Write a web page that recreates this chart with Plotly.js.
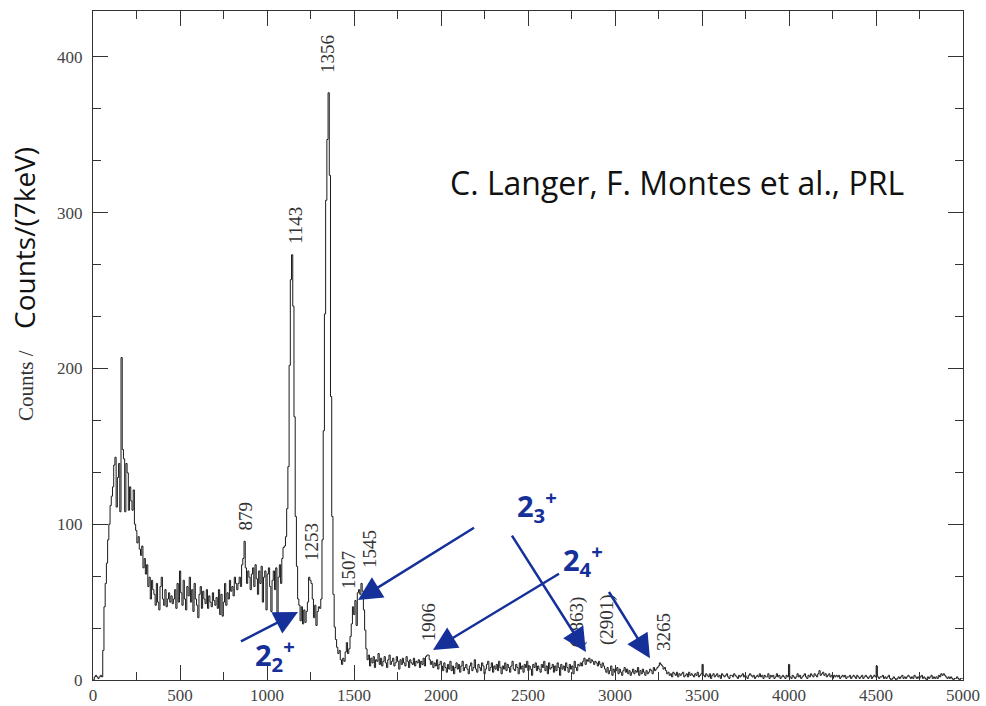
<!DOCTYPE html>
<html>
<head>
<meta charset="utf-8">
<script src="https://cdn.plot.ly/plotly-3.0.1.min.js"></script>
<style>
  html, body { margin: 0; padding: 0; background: #fff; }
  #chart { width: 986px; height: 706px; }
</style>
</head>
<body>
<div id="chart"></div>
<script>
// Gamma-ray spectrum, counts per 7 keV bin, 0–5000 keV.
const BIN_KEV = 7;

// 0 – 1099 keV : low-energy hump and Compton continuum, 879 keV line
const lowEnergy = [
  0, 2, 3, 2, 1, 2, 3, 2, 19, 47,
  62, 75, 90, 100, 112,
  118, 124, 138, 143, 111, 130, 139, 108, 207, 148, 142, 108, 139, 133, 109, 124, 115, 109, 122, 100, 96,
  88, 92, 84, 80, 86, 72, 78, 68, 74, 60, 66, 52, 64, 58,
  55, 48, 62, 50, 45, 60, 66, 52, 48, 58, 47, 52, 56, 50,
  54, 49, 52, 58, 46, 62, 50, 70, 56, 48, 64, 52, 45, 60, 54, 66,
  50, 58, 44, 62, 52, 48, 40, 55, 60, 46, 57, 52, 49, 58, 46, 54, 50, 47, 56, 51,
  48, 53, 46, 58, 42, 55, 41, 50, 62, 48, 56, 52, 64, 57, 60, 54, 66, 62,
  58, 62, 66, 60, 74, 78, 89, 72, 62,
  70, 66, 58, 68, 72, 60, 74, 65, 55, 70, 62, 73, 50, 66, 70, 45, 68, 72, 60, 44,
  64, 70, 58, 72, 43, 66, 74, 62, 78, 85
];

// 1099 – 1582 keV : 1143, 1253, 1356, 1507, 1545 keV lines
const peakRegion = [
  86, 92, 110, 137, 202, 257, 273, 240, 169, 105,
  73, 52, 48, 38, 47, 36, 45, 37, 44, 50,
  66, 64, 62, 52, 40, 48, 35, 44, 47, 46,
  52, 90, 160, 235, 308, 347, 377, 324, 182, 105,
  55, 34, 26, 21, 17, 19, 13, 10, 14, 12,
  18, 24, 17, 20, 28, 36, 47, 42, 51, 35,
  56, 58, 55, 62, 57, 45, 32, 20, 13
];

// 1582 – 2002 keV : flat background with the 1906 keV line
const midRegion = [
  16, 9, 14, 11, 15, 8, 13, 12, 17, 10, 14, 9, 12, 15, 11, 8, 13, 16, 10, 12,
  14, 9, 11, 15, 12, 7, 13, 10, 14, 11, 9, 15, 12, 8, 13, 11, 10, 14, 9, 12,
  11, 13, 8, 12, 10, 14, 9, 15, 16, 16, 13, 10, 12, 8, 11, 9, 13, 7, 10, 12
];

// 2002 – 2800 keV : background
const highBackground = [
  9, 6, 11, 8, 5, 10, 7, 12, 6, 9, 4, 8, 11, 7, 10, 5, 9, 12, 6, 8,
  10, 7, 4, 9, 11, 6, 8, 13, 7, 5, 10, 8, 6, 11, 9, 4, 7, 10, 12, 6,
  8, 11, 5, 9, 7, 10, 6, 12, 8, 4, 9, 7, 11, 6, 10, 8, 5, 9, 12, 7,
  6, 10, 8, 4, 11, 7, 9, 5, 10, 8, 12, 6, 9, 7, 3, 10, 8, 11, 6, 9,
  7, 5, 10, 8, 12, 6, 9, 4, 11, 7, 8, 10, 5, 9, 6, 11, 8, 3, 10, 7,
  9, 6, 11, 8, 5, 10, 7, 9, 4, 12, 8, 6, 10, 9
];

// 2800 – 2940 keV : (2863) / (2901) doublet
const doublet = [
  11, 9, 12, 14, 10, 13, 12, 14, 11, 13, 12, 10, 12, 11, 9, 12, 10, 8, 11, 9
];

// 2940 – 3241 keV
const preTail = [
  7, 5, 8, 4, 6, 9, 3, 7, 5, 6, 8, 4, 7, 5, 3, 6, 8, 5, 7, 4,
  6, 3, 5, 7, 4, 6, 5, 8, 3, 6, 4, 7, 5, 3, 6, 4, 5, 7, 6, 4,
  8, 6, 7
];

// 3241 – 3297 keV : 3265 keV line
const line3265 = [8, 9, 11, 10, 9, 7, 8, 6];

// 3297 – 4998 keV : tail
const tail = [
  4, 5, 3, 4, 2, 5, 4, 3, 5, 2, 4, 3, 4, 5, 2, 3, 4, 2, 5, 3,
  4, 3, 2, 4, 3, 5, 2, 3, 4, 10, 3, 2, 4, 3, 2, 4, 1, 3, 4, 2,
  3, 4, 2, 3, 1, 4, 3, 2, 3, 4, 2, 1, 3, 3, 2, 4, 3, 2, 1, 3,
  2, 3, 4, 2, 3, 2, 1, 3, 4, 3, 2, 3, 1, 2, 3, 2, 4, 2, 3, 1,
  3, 2, 2, 4, 1, 3, 2, 3, 1, 2, 4, 2, 3, 1, 2, 3, 2, 1, 3, 2,
  10, 2, 1, 3, 2, 1, 2, 4, 2, 3, 1, 2, 3, 4, 2, 1, 3, 2, 4, 3,
  2, 4, 3, 2, 4, 6, 3, 4, 5, 3, 4, 2, 3, 4, 2, 3, 1, 3, 2, 3,
  2, 3, 1, 2, 3, 2, 3, 1, 2, 2, 3, 1, 2, 3, 2, 1, 3, 2, 1, 2,
  3, 1, 2, 3, 2, 1, 2, 3, 1, 2, 3, 2, 9, 2, 1, 2, 2, 3, 1, 2,
  1, 2, 3, 1, 0, 1, 2, 1, 0, 1, 2, 1, 2, 3, 1, 2, 1, 2, 3, 2,
  1, 2, 1, 3, 2, 1, 2, 1, 2, 3, 1, 2, 1, 0, 2, 1, 2, 3, 1, 2,
  1, 2, 1, 3, 2, 4, 3, 4, 3, 2, 1, 2, 1, 2, 1, 0, 1, 1, 2, 1, 0, 1, 1
];

// Peak energy labels (keV) and where they sit
const peakLabels = ['879', '1143', '1253', '1356', '1507', '1545', '1906', '(2863)', '(2901)', '3265'];
const peakLabelX = [874, 1160, 1259, 1351, 1466, 1586, 1925, 2782, 2954, 3276];
const peakLabelY = [105, 292, 88.6, 402, 70.6, 84, 37, 37, 38.5, 30.8];

// State assignments: label text, label position, arrow tips and tails (px offsets)
const stateNames = ['2<sub>2</sub><sup>+</sup>', '2<sub>3</sub><sup>+</sup>', '2<sub>4</sub><sup>+</sup>'];
const stateX = [1046, 2552, 2816];
const stateY = [16, 112, 77];
const arrowTipX = [1178, 1523, 2833, 1954, 3201];
const arrowTipY = [43.7, 51.4, 18, 19.3, 14];
const arrowTailDx = [-60, 119, -77, 129, -44];
const arrowTailDy = [31, -74, -121, -78, -71];

const counts = [].concat(lowEnergy, peakRegion, midRegion, highBackground, doublet, preTail, line3265, tail);
const edges = counts.map((_, i) => i * BIN_KEV);
// close the last bin so the step reaches its right edge
const stepX = edges.concat([counts.length * BIN_KEV]);
const stepY = counts.concat([counts[counts.length - 1]]);

const navy = '#16309a';
const serif = 'Liberation Serif, Times New Roman, serif';

const annotations = [];
peakLabels.forEach((t, i) => {
  annotations.push({
    x: peakLabelX[i], y: peakLabelY[i], xref: 'x', yref: 'y',
    xanchor: 'center', yanchor: 'middle',
    text: t, textangle: -90, showarrow: false,
    font: { family: serif, size: 19, color: '#333' }
  });
});
stateNames.forEach((t, i) => {
  annotations.push({
    x: stateX[i], y: stateY[i], xref: 'x', yref: 'y',
    xanchor: 'center', yanchor: 'middle',
    text: '<b>' + t + '</b>', showarrow: false,
    font: { family: 'Open Sans, sans-serif', size: 29, color: navy }
  });
});
arrowTipX.forEach((x, i) => {
  annotations.push({
    x: x, y: arrowTipY[i], xref: 'x', yref: 'y',
    ax: arrowTailDx[i], ay: arrowTailDy[i],
    text: ' ', showarrow: true,
    arrowhead: 2, arrowsize: 1.9, arrowwidth: 2.5, arrowcolor: navy, standoff: 0
  });
});

// page-pixel placed texts, converted to paper coords below
const L = 93, T = 11, W = 870, H = 669;
const pageTexts = [
  { x: 677, y: 182, text: 'C. Langer, F. Montes et al., PRL', textangle: 0,
    font: { family: 'Open Sans, sans-serif', size: 32, color: '#111' } },
  { x: 24, y: 238, text: 'Counts/(7keV)', textangle: -90,
    font: { family: 'Open Sans, sans-serif', size: 28, color: '#111' } },
  { x: 26, y: 386, text: 'Counts /', textangle: -90,
    font: { family: serif, size: 21, color: '#333' } }
];
pageTexts.forEach(p => {
  annotations.push({
    xref: 'paper', yref: 'paper', xanchor: 'center', yanchor: 'middle',
    x: (p.x - L) / W, y: 1 - (p.y - T) / H,
    text: p.text, textangle: p.textangle, showarrow: false, font: p.font
  });
});

const axisCommon = {
  showline: true, linecolor: '#333', linewidth: 1,
  mirror: 'allticks', ticks: 'inside', ticklen: 15, tickwidth: 1, tickcolor: '#333',
  showgrid: false, zeroline: false,
  tickfont: { family: serif, size: 17, color: '#444' }
};

const layout = {
  width: 986, height: 706,
  margin: { l: L, r: 986 - L - W, t: T, b: 706 - T - H },
  paper_bgcolor: '#fff', plot_bgcolor: '#fff',
  showlegend: false,
  xaxis: Object.assign({}, axisCommon, {
    range: [0, 5000], dtick: 500, tick0: 0,
    minor: { dtick: 250, ticklen: 8, tickcolor: '#333', ticks: 'inside' }
  }),
  yaxis: Object.assign({}, axisCommon, {
    range: [0, 429.5], dtick: 100, tick0: 0, ticklabelstandoff: 6,
    minor: { dtick: 100 / 3, ticklen: 8, tickcolor: '#333', ticks: 'inside' }
  }),
  annotations: annotations
};

Plotly.newPlot('chart', [{
  type: 'scatter', mode: 'lines',
  x: stepX, y: stepY,
  line: { shape: 'hv', color: '#1a1a1a', width: 1 },
  hoverinfo: 'skip'
}], layout, { staticPlot: true, displayModeBar: false });
</script>
</body>
</html>
